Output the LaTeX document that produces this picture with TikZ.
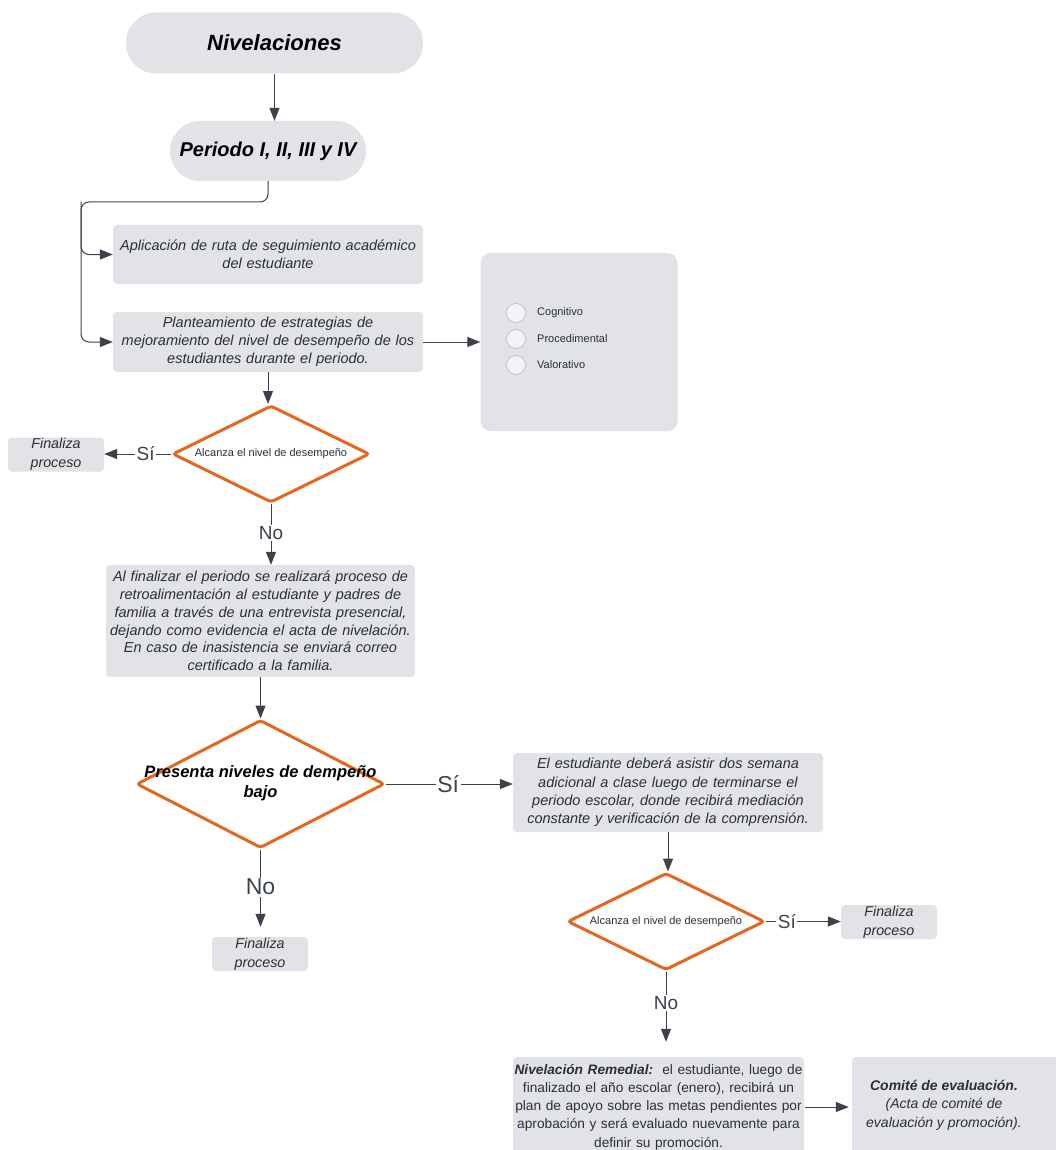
\documentclass[tikz,border=0pt]{standalone}
\usepackage{fontspec}
\setmainfont{Liberation Sans}
\usetikzlibrary{arrows.meta,shapes.geometric}
\definecolor{boxfill}{HTML}{E1E3E7}
\definecolor{ink}{HTML}{2B2F36}
\definecolor{linec}{HTML}{3C424B}
\definecolor{orng}{HTML}{E5671F}
\definecolor{circfill}{HTML}{F3F4F6}
\definecolor{circline}{HTML}{B5B9C0}
\begin{document}
\begin{tikzpicture}[x=1pt,y=-1pt,
 box/.style={fill=boxfill, rounded corners=4pt, text=ink, align=center, inner sep=0pt, font=\itshape\fontsize{14.5}{17.8}\selectfont},
 finbox/.style={box, minimum width=96pt, minimum height=34pt, font=\itshape\fontsize{14.3}{19}\selectfont},
 stadium/.style={fill=boxfill, rounded corners=30pt, text=black, inner sep=0pt},
 dia/.style={diamond, draw=orng, line width=3pt, rounded corners=3pt, inner sep=0pt, fill=white},
 diatext/.style={text=ink, align=center, inner sep=0pt, font=\fontsize{11}{13}\selectfont},
 conn/.style={draw=linec, line width=1pt, -{Triangle[length=13pt,width=10pt]}},
 lab/.style={fill=white, text=linec, inner sep=1.5pt, font=\fontsize{19}{22}\selectfont},
 biglab/.style={lab, font=\fontsize{23}{26}\selectfont},
 item/.style={anchor=west, text=ink, inner sep=0pt, font=\fontsize{11}{13}\selectfont},
 radio/.style={circle, fill=circfill, draw=circline, line width=0.6pt, minimum size=19pt, inner sep=0pt},
]
\useasboundingbox[fill=white] (0,0) rectangle (1055,1150);

% top
\node[stadium, minimum width=297pt, minimum height=61pt, font=\bfseries\itshape\fontsize{22}{26}\selectfont] (niv) at (274.5,43) {Nivelaciones};
\node[stadium, minimum width=196pt, minimum height=60pt, font=\bfseries\itshape\fontsize{20}{24}\selectfont] (per) at (268,151) {Periodo I, II, III y IV};

\node[box, minimum width=310pt, minimum height=59pt, text width=305pt] (b1) at (268,254.5)
 {Aplicación de ruta de seguimiento académico\\del estudiante};
\node[box, minimum width=310pt, minimum height=60pt, text width=305pt] (b2) at (268,342)
 {Planteamiento de estrategias de\\mejoramiento del nivel de desempeño de los\\estudiantes durante el periodo.};

% side box
\node[fill=boxfill, rounded corners=10pt, minimum width=197pt, minimum height=178pt, inner sep=0pt] (big) at (579,342) {};
\node[radio] (c1) at (516,313) {};
\node[radio] (c2) at (516,339) {};
\node[radio] (c3) at (516,365) {};
\node[item] (t1) at (537,313) {Cognitivo};
\node[item] (t2) at (537,339) {Procedimental};
\node[item] (t3) at (537,365) {Valorativo};

% decision 1
\node[dia, minimum width=197pt, minimum height=97pt] (d1) at (271,454) {};
\node[diatext] (d1t) at (d1.center) {Alcanza el nivel de desempeño};
\node[finbox] (f1) at (56,454.5) {Finaliza\\proceso};

\node[box, minimum width=309pt, minimum height=112pt, text width=305pt] (b3) at (260.5,621)
 {Al finalizar el periodo se realizará proceso de\\retroalimentación al estudiante y padres de\\familia a través de una entrevista presencial,\\dejando como evidencia el acta de nivelación.\\En caso de inasistencia se enviará correo\\certificado a la familia.};

% decision 2
\node[dia, minimum width=248pt, minimum height=128pt] (d2) at (260.5,784) {};
\node[diatext, font=\bfseries\itshape\fontsize{16.5}{20}\selectfont, text=black] (d2t) at (260.5,783) {Presenta niveles de dempeño\\bajo};
\node[finbox] (f2) at (260,954) {Finaliza\\proceso};

\node[box, minimum width=310pt, minimum height=79pt, text width=305pt, font=\itshape\fontsize{14.5}{18.3}\selectfont] (b4) at (668,792.5)
 {El estudiante deberá asistir dos semana\\adicional a clase luego de terminarse el\\periodo escolar, donde recibirá mediación\\constante y verificación de la comprensión.};

% decision 3
\node[dia, minimum width=197pt, minimum height=97pt] (d3) at (666,921.5) {};
\node[diatext] (d3t) at (d3.center) {Alcanza el nivel de desempeño};
\node[finbox] (f3) at (889,922) {Finaliza\\proceso};

\node[box, minimum width=291pt, minimum height=100pt, text width=288pt, font=\fontsize{13.7}{18.3}\selectfont] (b5) at (658.5,1107)
 {\textbf{\textit{Nivelación Remedial:}}\ \ el estudiante, luego de\\finalizado el año escolar (enero), recibirá un\\plan de apoyo sobre las metas pendientes por\\aprobación y será evaluado nuevamente para\\definir su promoción.};
\node[fill=boxfill, rounded corners=4pt, minimum width=210pt, minimum height=100pt, inner sep=0pt] (b6) at (957,1107) {};
\node[text=ink, align=center, inner sep=0pt, font=\itshape\fontsize{14}{18.5}\selectfont] (b6t) at (944,1105)
 {\textbf{Comité de evaluación.}\\(Acta de comité de\\evaluación y promoción).};

% connectors
\coordinate (jl) at (81,202);
\draw[conn] (niv.south) -- (niv.south |- per.north);
\draw[conn, rounded corners=8pt] (per.south) |- (jl) |- (b1.west);
\draw[conn, rounded corners=8pt] (jl) |- (b2.west);
\draw[conn] (b2.east) -- (b2.east -| big.west);
\draw[conn] (b2.south) -- (b2.south |- d1.north);
\draw[conn] (d1.west) -- node[lab, pos=0.38] (s1) {Sí} (d1.west -| f1.east);
\draw[conn] (d1.south) -- node[lab, pos=0.48] (n1) {No} (d1.south |- b3.north);
\draw[conn] (b3.south) -- (d2.north);
\draw[conn] (d2.east) -- node[biglab, pos=0.49] (s2) {Sí} (d2.east -| b4.west);
\draw[conn, shorten >=10pt] (d2.south) -- node[biglab, pos=0.43] (n2) {No} (d2.south |- f2.north);
\draw[conn] (b4.south) -- (b4.south |- d3.north);
\draw[conn] (d3.east) -- node[lab, pos=0.28] (s3) {Sí} (d3.east -| f3.west);
\draw[conn, shorten >=15pt] (d3.south) -- node[lab, pos=0.37] (n3) {No} (d3.south |- b5.north);
\draw[conn, shorten <=1pt, shorten >=3pt] (b5.east) -- (b5.east -| b6.west);
\end{tikzpicture}
\end{document}
